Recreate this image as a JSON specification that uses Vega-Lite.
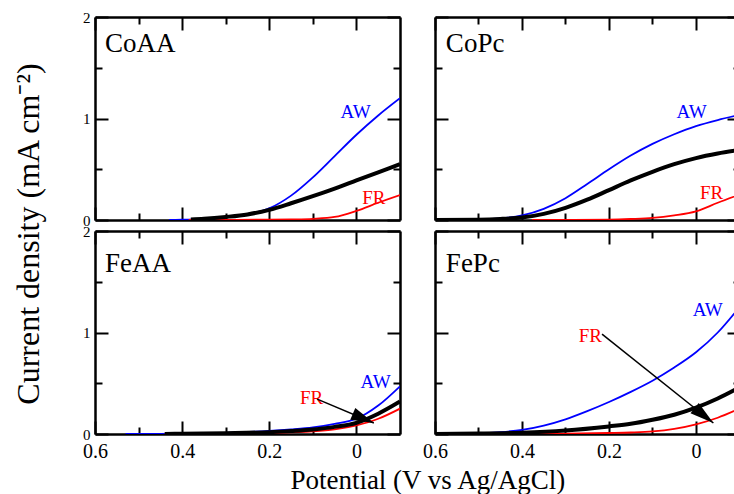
{
  "$schema": "https://vega.github.io/schema/vega-lite/v6.json",
  "padding": {"left": 12, "top": 10, "right": 0, "bottom": 0},
  "background": "white",
  "config": {
    "font": "Liberation Serif",
    "view": {"stroke": null},
    "axis": {"grid": false, "domainColor": "#000", "domainWidth": 2.5, "tickColor": "#000", "tickWidth": 2, "labelColor": "#000", "labelFont": "Liberation Serif", "labelFlush": false, "labelOverlap": false, "minExtent": 0, "labelBound": false, "format": "~g"},
    "title": {"font": "Liberation Serif", "fontWeight": "normal", "color": "#000"},
    "text": {"font": "Liberation Serif"}
  },
  "datasets": {
    "lines": [
      {"panel":"CoAA","series":"AW","x":0.43,"y":0},{"panel":"CoAA","series":"AW","x":0.4,"y":0.003},{"panel":"CoAA","series":"AW","x":0.35,"y":0.012},{"panel":"CoAA","series":"AW","x":0.3,"y":0.03},{"panel":"CoAA","series":"AW","x":0.25,"y":0.06},{"panel":"CoAA","series":"AW","x":0.2,"y":0.115},{"panel":"CoAA","series":"AW","x":0.15,"y":0.24},{"panel":"CoAA","series":"AW","x":0.1,"y":0.42},{"panel":"CoAA","series":"AW","x":0.05,"y":0.63},{"panel":"CoAA","series":"AW","x":0,"y":0.84},{"panel":"CoAA","series":"AW","x":-0.05,"y":1.03},{"panel":"CoAA","series":"AW","x":-0.1,"y":1.2},
      {"panel":"CoAA","series":"FR","x":0.385,"y":0},{"panel":"CoAA","series":"FR","x":0.3,"y":0.001},{"panel":"CoAA","series":"FR","x":0.2,"y":0.003},{"panel":"CoAA","series":"FR","x":0.15,"y":0.006},{"panel":"CoAA","series":"FR","x":0.1,"y":0.012},{"panel":"CoAA","series":"FR","x":0.05,"y":0.03},{"panel":"CoAA","series":"FR","x":0,"y":0.09},{"panel":"CoAA","series":"FR","x":-0.05,"y":0.17},{"panel":"CoAA","series":"FR","x":-0.1,"y":0.245},
      {"panel":"CoAA","series":"mean","x":0.38,"y":0.005},{"panel":"CoAA","series":"mean","x":0.35,"y":0.012},{"panel":"CoAA","series":"mean","x":0.3,"y":0.03},{"panel":"CoAA","series":"mean","x":0.25,"y":0.055},{"panel":"CoAA","series":"mean","x":0.2,"y":0.1},{"panel":"CoAA","series":"mean","x":0.15,"y":0.165},{"panel":"CoAA","series":"mean","x":0.1,"y":0.235},{"panel":"CoAA","series":"mean","x":0.05,"y":0.31},{"panel":"CoAA","series":"mean","x":0,"y":0.39},{"panel":"CoAA","series":"mean","x":-0.05,"y":0.47},{"panel":"CoAA","series":"mean","x":-0.1,"y":0.55},
      {"panel":"CoPc","series":"AW","x":0.55,"y":0},{"panel":"CoPc","series":"AW","x":0.5,"y":0.004},{"panel":"CoPc","series":"AW","x":0.45,"y":0.015},{"panel":"CoPc","series":"AW","x":0.4,"y":0.045},{"panel":"CoPc","series":"AW","x":0.35,"y":0.11},{"panel":"CoPc","series":"AW","x":0.3,"y":0.215},{"panel":"CoPc","series":"AW","x":0.25,"y":0.355},{"panel":"CoPc","series":"AW","x":0.2,"y":0.5},{"panel":"CoPc","series":"AW","x":0.15,"y":0.635},{"panel":"CoPc","series":"AW","x":0.1,"y":0.75},{"panel":"CoPc","series":"AW","x":0.05,"y":0.845},{"panel":"CoPc","series":"AW","x":0,"y":0.925},{"panel":"CoPc","series":"AW","x":-0.05,"y":0.985},{"panel":"CoPc","series":"AW","x":-0.1,"y":1.035},
      {"panel":"CoPc","series":"FR","x":0.377,"y":0},{"panel":"CoPc","series":"FR","x":0.3,"y":0.001},{"panel":"CoPc","series":"FR","x":0.2,"y":0.004},{"panel":"CoPc","series":"FR","x":0.15,"y":0.01},{"panel":"CoPc","series":"FR","x":0.1,"y":0.02},{"panel":"CoPc","series":"FR","x":0.05,"y":0.045},{"panel":"CoPc","series":"FR","x":0,"y":0.085},{"panel":"CoPc","series":"FR","x":-0.05,"y":0.17},{"panel":"CoPc","series":"FR","x":-0.1,"y":0.25},
      {"panel":"CoPc","series":"mean","x":0.6,"y":0},{"panel":"CoPc","series":"mean","x":0.5,"y":0.003},{"panel":"CoPc","series":"mean","x":0.45,"y":0.01},{"panel":"CoPc","series":"mean","x":0.4,"y":0.025},{"panel":"CoPc","series":"mean","x":0.35,"y":0.06},{"panel":"CoPc","series":"mean","x":0.3,"y":0.12},{"panel":"CoPc","series":"mean","x":0.25,"y":0.2},{"panel":"CoPc","series":"mean","x":0.2,"y":0.295},{"panel":"CoPc","series":"mean","x":0.15,"y":0.39},{"panel":"CoPc","series":"mean","x":0.1,"y":0.475},{"panel":"CoPc","series":"mean","x":0.05,"y":0.55},{"panel":"CoPc","series":"mean","x":0,"y":0.61},{"panel":"CoPc","series":"mean","x":-0.05,"y":0.655},{"panel":"CoPc","series":"mean","x":-0.1,"y":0.69},
      {"panel":"FeAA","series":"AW","x":0.53,"y":0},{"panel":"FeAA","series":"AW","x":0.45,"y":0.002},{"panel":"FeAA","series":"AW","x":0.4,"y":0.005},{"panel":"FeAA","series":"AW","x":0.3,"y":0.012},{"panel":"FeAA","series":"AW","x":0.2,"y":0.03},{"panel":"FeAA","series":"AW","x":0.15,"y":0.045},{"panel":"FeAA","series":"AW","x":0.1,"y":0.065},{"panel":"FeAA","series":"AW","x":0.05,"y":0.1},{"panel":"FeAA","series":"AW","x":0,"y":0.15},{"panel":"FeAA","series":"AW","x":-0.05,"y":0.28},{"panel":"FeAA","series":"AW","x":-0.1,"y":0.47},
      {"panel":"FeAA","series":"FR","x":0.44,"y":0},{"panel":"FeAA","series":"FR","x":0.3,"y":0.004},{"panel":"FeAA","series":"FR","x":0.2,"y":0.01},{"panel":"FeAA","series":"FR","x":0.1,"y":0.025},{"panel":"FeAA","series":"FR","x":0.05,"y":0.045},{"panel":"FeAA","series":"FR","x":0,"y":0.085},{"panel":"FeAA","series":"FR","x":-0.05,"y":0.15},{"panel":"FeAA","series":"FR","x":-0.1,"y":0.25},
      {"panel":"FeAA","series":"mean","x":0.44,"y":0},{"panel":"FeAA","series":"mean","x":0.4,"y":0.003},{"panel":"FeAA","series":"mean","x":0.3,"y":0.008},{"panel":"FeAA","series":"mean","x":0.2,"y":0.018},{"panel":"FeAA","series":"mean","x":0.15,"y":0.03},{"panel":"FeAA","series":"mean","x":0.1,"y":0.045},{"panel":"FeAA","series":"mean","x":0.05,"y":0.07},{"panel":"FeAA","series":"mean","x":0,"y":0.11},{"panel":"FeAA","series":"mean","x":-0.05,"y":0.2},{"panel":"FeAA","series":"mean","x":-0.1,"y":0.32},
      {"panel":"FePc","series":"AW","x":0.58,"y":0},{"panel":"FePc","series":"AW","x":0.5,"y":0.006},{"panel":"FePc","series":"AW","x":0.45,"y":0.018},{"panel":"FePc","series":"AW","x":0.4,"y":0.04},{"panel":"FePc","series":"AW","x":0.35,"y":0.083},{"panel":"FePc","series":"AW","x":0.3,"y":0.145},{"panel":"FePc","series":"AW","x":0.25,"y":0.225},{"panel":"FePc","series":"AW","x":0.2,"y":0.315},{"panel":"FePc","series":"AW","x":0.15,"y":0.415},{"panel":"FePc","series":"AW","x":0.1,"y":0.525},{"panel":"FePc","series":"AW","x":0.05,"y":0.655},{"panel":"FePc","series":"AW","x":0,"y":0.805},{"panel":"FePc","series":"AW","x":-0.05,"y":1.0},{"panel":"FePc","series":"AW","x":-0.1,"y":1.25},
      {"panel":"FePc","series":"FR","x":0.377,"y":0},{"panel":"FePc","series":"FR","x":0.3,"y":0.003},{"panel":"FePc","series":"FR","x":0.2,"y":0.01},{"panel":"FePc","series":"FR","x":0.15,"y":0.015},{"panel":"FePc","series":"FR","x":0.1,"y":0.025},{"panel":"FePc","series":"FR","x":0.05,"y":0.05},{"panel":"FePc","series":"FR","x":0,"y":0.095},{"panel":"FePc","series":"FR","x":-0.05,"y":0.16},{"panel":"FePc","series":"FR","x":-0.1,"y":0.25},
      {"panel":"FePc","series":"mean","x":0.6,"y":0},{"panel":"FePc","series":"mean","x":0.5,"y":0.004},{"panel":"FePc","series":"mean","x":0.4,"y":0.013},{"panel":"FePc","series":"mean","x":0.3,"y":0.035},{"panel":"FePc","series":"mean","x":0.2,"y":0.075},{"panel":"FePc","series":"mean","x":0.15,"y":0.1},{"panel":"FePc","series":"mean","x":0.1,"y":0.14},{"panel":"FePc","series":"mean","x":0.05,"y":0.19},{"panel":"FePc","series":"mean","x":0,"y":0.26},{"panel":"FePc","series":"mean","x":-0.05,"y":0.35},{"panel":"FePc","series":"mean","x":-0.1,"y":0.46}
    ],
    "labels": [
      {"panel":"CoAA","series":"AW","text":"AW","x":0.002,"y":1.06},{"panel":"CoAA","series":"FR","text":"FR","x":-0.04,"y":0.213},
      {"panel":"CoPc","series":"AW","text":"AW","x":0.01,"y":1.06},{"panel":"CoPc","series":"FR","text":"FR","x":-0.036,"y":0.262},
      {"panel":"FeAA","series":"AW","text":"AW","x":-0.044,"y":0.508},{"panel":"FeAA","series":"FR","text":"FR","x":0.103,"y":0.351},
      {"panel":"FePc","series":"AW","text":"AW","x":-0.027,"y":1.223},{"panel":"FePc","series":"FR","text":"FR","x":0.243,"y":0.964}
    ],
    "names": [
      {"panel":"CoAA","name":"CoAA","x":0.577,"y":1.73},{"panel":"CoPc","name":"CoPc","x":0.575,"y":1.73},
      {"panel":"FeAA","name":"FeAA","x":0.577,"y":1.67},{"panel":"FePc","name":"FePc","x":0.575,"y":1.67}
    ],
    "arrows": [
      {"panel":"FeAA","x":0.09,"y":0.344,"x2":-0.04,"y2":0.108},
      {"panel":"FePc","x":0.216,"y":0.984,"x2":-0.04,"y2":0.108}
    ]
  },
  "title": {"text": "Current density (mA cm⁻²)", "orient": "left", "fontSize": 32, "anchor": "middle", "offset": 37, "dx": 18},
  "vconcat": [
    {
      "title": {"text": "Potential (V vs Ag/AgCl)", "orient": "bottom", "fontSize": 27, "anchor": "middle", "offset": 7, "dx": 18},
      "columns": 2,
      "spacing": {"row": 11, "column": 35},
      "bounds": "flush",
      "concat": [
        {
          "width": 305, "height": 203,
          "layer": [
            {"data": {"name": "lines"}, "transform": [{"filter": "datum.panel === 'CoAA' && datum.series !== 'mean'"}],
             "mark": {"type": "line", "strokeWidth": 1.8, "clip": true, "interpolate": "monotone"},
             "encoding": {
               "x": {"field": "x", "type": "quantitative", "scale": {"domain": [0.6, -0.1], "nice": false, "zero": false}, "axis": {"orient": "bottom", "values": [0.6, 0.4, 0.2, 0], "tickSize": -13, "labels": false, "title": null}},
               "y": {"field": "y", "type": "quantitative", "scale": {"domain": [0, 2], "nice": false}, "axis": {"orient": "left", "values": [0, 1, 2], "tickSize": -13, "labels": true, "labelFontSize": 15, "labelPadding": 18, "title": null}},
               "color": {"field": "series", "type": "nominal", "scale": {"domain": ["AW", "FR", "mean"], "range": ["#0000ff", "#ff0000", "#000000"]}, "legend": null},
               "order": {"field": "x", "sort": "descending"}
             }},
            {"data": {"name": "lines"}, "transform": [{"filter": "datum.panel === 'CoAA' && datum.series === 'mean'"}],
             "mark": {"type": "line", "strokeWidth": 4, "color": "#000", "clip": true, "interpolate": "monotone"},
             "encoding": {
               "x": {"field": "x", "type": "quantitative", "axis": {"orient": "top", "values": [0.6, 0.4, 0.2, 0], "tickSize": -13, "labels": false, "title": null}},
               "y": {"field": "y", "type": "quantitative", "axis": {"orient": "right", "values": [0, 1, 2], "tickSize": -13, "labels": false, "title": null}},
               "order": {"field": "x", "sort": "descending"}
             }},
            {"data": {"name": "labels"}, "transform": [{"filter": "datum.panel === 'CoAA'"}],
             "mark": {"type": "text", "fontSize": 19, "align": "center", "baseline": "middle"},
             "encoding": {
               "x": {"field": "x", "type": "quantitative", "axis": {"orient": "bottom", "values": [0.5, 0.3, 0.1], "tickSize": -7, "labels": false, "domain": false, "title": null}},
               "y": {"field": "y", "type": "quantitative", "axis": {"orient": "left", "values": [0.5, 1.5], "tickSize": -7, "labels": false, "domain": false, "title": null}},
               "text": {"field": "text"},
               "color": {"field": "series", "type": "nominal", "legend": null}
             }},
            {"data": {"name": "names"}, "transform": [{"filter": "datum.panel === 'CoAA'"}],
             "mark": {"type": "text", "fontSize": 27, "align": "left", "baseline": "middle", "color": "#000"},
             "encoding": {
               "x": {"field": "x", "type": "quantitative", "axis": {"orient": "top", "values": [0.5, 0.3, 0.1], "tickSize": -7, "labels": false, "domain": false, "title": null}},
               "y": {"field": "y", "type": "quantitative", "axis": {"orient": "right", "values": [0.5, 1.5], "tickSize": -7, "labels": false, "domain": false, "title": null}},
               "text": {"field": "name"}
             }}
          ],
          "resolve": {"axis": {"x": "independent", "y": "independent"}}
        },
        {
          "width": 301, "height": 203,
          "layer": [
            {"data": {"name": "lines"}, "transform": [{"filter": "datum.panel === 'CoPc' && datum.series !== 'mean'"}],
             "mark": {"type": "line", "strokeWidth": 1.8, "clip": true, "interpolate": "monotone"},
             "encoding": {
               "x": {"field": "x", "type": "quantitative", "scale": {"domain": [0.6, -0.092], "nice": false, "zero": false}, "axis": {"orient": "bottom", "values": [0.6, 0.4, 0.2, 0], "tickSize": -13, "labels": false, "title": null}},
               "y": {"field": "y", "type": "quantitative", "scale": {"domain": [0, 2], "nice": false}, "axis": {"orient": "left", "values": [0, 1, 2], "tickSize": -13, "labels": false, "title": null}},
               "color": {"field": "series", "type": "nominal", "scale": {"domain": ["AW", "FR", "mean"], "range": ["#0000ff", "#ff0000", "#000000"]}, "legend": null},
               "order": {"field": "x", "sort": "descending"}
             }},
            {"data": {"name": "lines"}, "transform": [{"filter": "datum.panel === 'CoPc' && datum.series === 'mean'"}],
             "mark": {"type": "line", "strokeWidth": 4, "color": "#000", "clip": true, "interpolate": "monotone"},
             "encoding": {
               "x": {"field": "x", "type": "quantitative", "axis": {"orient": "top", "values": [0.6, 0.4, 0.2, 0], "tickSize": -13, "labels": false, "title": null}},
               "y": {"field": "y", "type": "quantitative", "axis": {"orient": "right", "values": [0, 1, 2], "tickSize": -9, "labels": false, "domain": false, "title": null}},
               "order": {"field": "x", "sort": "descending"}
             }},
            {"data": {"name": "labels"}, "transform": [{"filter": "datum.panel === 'CoPc'"}],
             "mark": {"type": "text", "fontSize": 19, "align": "center", "baseline": "middle"},
             "encoding": {
               "x": {"field": "x", "type": "quantitative", "axis": {"orient": "bottom", "values": [0.5, 0.3, 0.1], "tickSize": -7, "labels": false, "domain": false, "title": null}},
               "y": {"field": "y", "type": "quantitative", "axis": {"orient": "left", "values": [0.5, 1.5], "tickSize": -7, "labels": false, "domain": false, "title": null}},
               "text": {"field": "text"},
               "color": {"field": "series", "type": "nominal", "legend": null}
             }},
            {"data": {"name": "names"}, "transform": [{"filter": "datum.panel === 'CoPc'"}],
             "mark": {"type": "text", "fontSize": 27, "align": "left", "baseline": "middle", "color": "#000"},
             "encoding": {
               "x": {"field": "x", "type": "quantitative", "axis": {"orient": "top", "values": [0.5, 0.3, 0.1], "tickSize": -7, "labels": false, "domain": false, "title": null}},
               "y": {"field": "y", "type": "quantitative", "axis": {"orient": "right", "values": [0.5, 1.5], "tickSize": -3, "labels": false, "domain": false, "title": null}},
               "text": {"field": "name"}
             }}
          ],
          "resolve": {"axis": {"x": "independent", "y": "independent"}}
        },
        {
          "width": 305, "height": 203,
          "layer": [
            {"data": {"name": "lines"}, "transform": [{"filter": "datum.panel === 'FeAA' && datum.series !== 'mean'"}],
             "mark": {"type": "line", "strokeWidth": 1.8, "clip": true, "interpolate": "monotone"},
             "encoding": {
               "x": {"field": "x", "type": "quantitative", "scale": {"domain": [0.6, -0.1], "nice": false, "zero": false}, "axis": {"orient": "bottom", "values": [0.6, 0.4, 0.2, 0], "tickSize": -13, "labels": true, "labelFontSize": 20, "labelPadding": 20, "title": null}},
               "y": {"field": "y", "type": "quantitative", "scale": {"domain": [0, 2], "nice": false}, "axis": {"orient": "left", "values": [0, 1, 2], "tickSize": -13, "labels": true, "labelFontSize": 15, "labelPadding": 18, "title": null}},
               "color": {"field": "series", "type": "nominal", "scale": {"domain": ["AW", "FR", "mean"], "range": ["#0000ff", "#ff0000", "#000000"]}, "legend": null},
               "order": {"field": "x", "sort": "descending"}
             }},
            {"data": {"name": "lines"}, "transform": [{"filter": "datum.panel === 'FeAA' && datum.series === 'mean'"}],
             "mark": {"type": "line", "strokeWidth": 4, "color": "#000", "clip": true, "interpolate": "monotone"},
             "encoding": {
               "x": {"field": "x", "type": "quantitative", "axis": {"orient": "top", "values": [0.6, 0.4, 0.2, 0], "tickSize": -13, "labels": false, "title": null}},
               "y": {"field": "y", "type": "quantitative", "axis": {"orient": "right", "values": [0, 1, 2], "tickSize": -13, "labels": false, "title": null}},
               "order": {"field": "x", "sort": "descending"}
             }},
            {"data": {"name": "labels"}, "transform": [{"filter": "datum.panel === 'FeAA'"}],
             "mark": {"type": "text", "fontSize": 19, "align": "center", "baseline": "middle"},
             "encoding": {
               "x": {"field": "x", "type": "quantitative", "axis": {"orient": "bottom", "values": [0.5, 0.3, 0.1], "tickSize": -7, "labels": false, "domain": false, "title": null}},
               "y": {"field": "y", "type": "quantitative", "axis": {"orient": "left", "values": [0.5, 1.5], "tickSize": -7, "labels": false, "domain": false, "title": null}},
               "text": {"field": "text"},
               "color": {"field": "series", "type": "nominal", "legend": null}
             }},
            {"data": {"name": "names"}, "transform": [{"filter": "datum.panel === 'FeAA'"}],
             "mark": {"type": "text", "fontSize": 27, "align": "left", "baseline": "middle", "color": "#000"},
             "encoding": {
               "x": {"field": "x", "type": "quantitative", "axis": {"orient": "top", "values": [0.5, 0.3, 0.1], "tickSize": -7, "labels": false, "domain": false, "title": null}},
               "y": {"field": "y", "type": "quantitative", "axis": {"orient": "right", "values": [0.5, 1.5], "tickSize": -7, "labels": false, "domain": false, "title": null}},
               "text": {"field": "name"}
             }},
            {"data": {"name": "arrows"}, "transform": [{"filter": "datum.panel === 'FeAA'"}],
             "mark": {"type": "rule", "strokeWidth": 1.5, "color": "#000"},
             "encoding": {
               "x": {"field": "x", "type": "quantitative", "axis": null},
               "y": {"field": "y", "type": "quantitative", "axis": null},
               "x2": {"field": "x2"},
               "y2": {"field": "y2"}
             }},
            {"data": {"name": "arrows"}, "transform": [{"filter": "datum.panel === 'FeAA'"}],
             "mark": {"type": "point", "shape": "M0,0L-2,-0.55L-2,0.55Z", "filled": true, "color": "#000", "opacity": 1, "size": 529, "angle": 23.6},
             "encoding": {
               "x": {"field": "x2", "type": "quantitative", "axis": null},
               "y": {"field": "y2", "type": "quantitative", "axis": null}
             }}
          ],
          "resolve": {"axis": {"x": "independent", "y": "independent"}}
        },
        {
          "width": 301, "height": 203,
          "layer": [
            {"data": {"name": "lines"}, "transform": [{"filter": "datum.panel === 'FePc' && datum.series !== 'mean'"}],
             "mark": {"type": "line", "strokeWidth": 1.8, "clip": true, "interpolate": "monotone"},
             "encoding": {
               "x": {"field": "x", "type": "quantitative", "scale": {"domain": [0.6, -0.092], "nice": false, "zero": false}, "axis": {"orient": "bottom", "values": [0.6, 0.4, 0.2, 0], "tickSize": -13, "labels": true, "labelFontSize": 20, "labelPadding": 20, "title": null}},
               "y": {"field": "y", "type": "quantitative", "scale": {"domain": [0, 2], "nice": false}, "axis": {"orient": "left", "values": [0, 1, 2], "tickSize": -13, "labels": false, "title": null}},
               "color": {"field": "series", "type": "nominal", "scale": {"domain": ["AW", "FR", "mean"], "range": ["#0000ff", "#ff0000", "#000000"]}, "legend": null},
               "order": {"field": "x", "sort": "descending"}
             }},
            {"data": {"name": "lines"}, "transform": [{"filter": "datum.panel === 'FePc' && datum.series === 'mean'"}],
             "mark": {"type": "line", "strokeWidth": 4, "color": "#000", "clip": true, "interpolate": "monotone"},
             "encoding": {
               "x": {"field": "x", "type": "quantitative", "axis": {"orient": "top", "values": [0.6, 0.4, 0.2, 0], "tickSize": -13, "labels": false, "title": null}},
               "y": {"field": "y", "type": "quantitative", "axis": {"orient": "right", "values": [0, 1, 2], "tickSize": -9, "labels": false, "domain": false, "title": null}},
               "order": {"field": "x", "sort": "descending"}
             }},
            {"data": {"name": "labels"}, "transform": [{"filter": "datum.panel === 'FePc'"}],
             "mark": {"type": "text", "fontSize": 19, "align": "center", "baseline": "middle"},
             "encoding": {
               "x": {"field": "x", "type": "quantitative", "axis": {"orient": "bottom", "values": [0.5, 0.3, 0.1], "tickSize": -7, "labels": false, "domain": false, "title": null}},
               "y": {"field": "y", "type": "quantitative", "axis": {"orient": "left", "values": [0.5, 1.5], "tickSize": -7, "labels": false, "domain": false, "title": null}},
               "text": {"field": "text"},
               "color": {"field": "series", "type": "nominal", "legend": null}
             }},
            {"data": {"name": "names"}, "transform": [{"filter": "datum.panel === 'FePc'"}],
             "mark": {"type": "text", "fontSize": 27, "align": "left", "baseline": "middle", "color": "#000"},
             "encoding": {
               "x": {"field": "x", "type": "quantitative", "axis": {"orient": "top", "values": [0.5, 0.3, 0.1], "tickSize": -7, "labels": false, "domain": false, "title": null}},
               "y": {"field": "y", "type": "quantitative", "axis": {"orient": "right", "values": [0.5, 1.5], "tickSize": -3, "labels": false, "domain": false, "title": null}},
               "text": {"field": "name"}
             }},
            {"data": {"name": "arrows"}, "transform": [{"filter": "datum.panel === 'FePc'"}],
             "mark": {"type": "rule", "strokeWidth": 1.5, "color": "#000"},
             "encoding": {
               "x": {"field": "x", "type": "quantitative", "axis": null},
               "y": {"field": "y", "type": "quantitative", "axis": null},
               "x2": {"field": "x2"},
               "y2": {"field": "y2"}
             }},
            {"data": {"name": "arrows"}, "transform": [{"filter": "datum.panel === 'FePc'"}],
             "mark": {"type": "point", "shape": "M0,0L-2,-0.55L-2,0.55Z", "filled": true, "color": "#000", "opacity": 1, "size": 576, "angle": 38.6},
             "encoding": {
               "x": {"field": "x2", "type": "quantitative", "axis": null},
               "y": {"field": "y2", "type": "quantitative", "axis": null}
             }}
          ],
          "resolve": {"axis": {"x": "independent", "y": "independent"}}
        }
      ]
    }
  ]
}
